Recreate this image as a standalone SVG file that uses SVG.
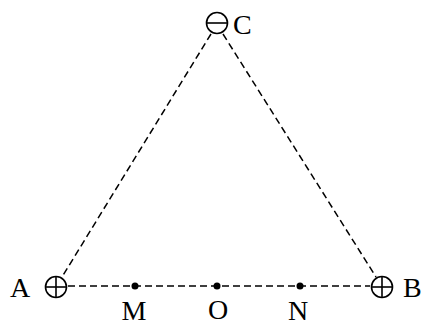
<svg xmlns="http://www.w3.org/2000/svg" width="429" height="327" viewBox="0 0 429 327">
<style>
.dash{stroke:#000;stroke-width:1.5;stroke-dasharray:7,4;fill:none}
.ch{stroke:#000;stroke-width:1.6;fill:none}
.lbl{font-family:"Liberation Serif",serif;font-size:28px;fill:#000}
.dot{fill:#000}
</style>
<rect width="429" height="327" fill="#fff"/>
<g id="connectors">
<line class="dash" x1="211" y1="34" x2="62" y2="277"/>
<line class="dash" x1="223" y1="34" x2="376" y2="277"/>
<line class="dash" x1="68" y1="286" x2="370" y2="286"/>
</g>
<g id="C">
<circle class="ch" cx="217" cy="23" r="10.5"/>
<line class="ch" x1="206.5" y1="23" x2="227.5" y2="23"/>
<text class="lbl" x="233" y="34">C</text>
</g>
<g id="A">
<circle class="ch" cx="56" cy="287" r="10.5"/>
<line class="ch" x1="45.5" y1="287" x2="66.5" y2="287"/>
<line class="ch" x1="56" y1="276.5" x2="56" y2="297.5"/>
<text class="lbl" x="10" y="297">A</text>
</g>
<g id="B">
<circle class="ch" cx="382" cy="287" r="10.5"/>
<line class="ch" x1="371.5" y1="287" x2="392.5" y2="287"/>
<line class="ch" x1="382" y1="276.5" x2="382" y2="297.5"/>
<text class="lbl" x="403" y="297">B</text>
</g>
<g id="M">
<circle class="dot" cx="135" cy="286" r="3.5"/>
<text class="lbl" x="134" y="320" text-anchor="middle">M</text>
</g>
<g id="O">
<circle class="dot" cx="217" cy="286" r="3.5"/>
<text class="lbl" x="218" y="319" text-anchor="middle">O</text>
</g>
<g id="N">
<circle class="dot" cx="300" cy="286" r="3.5"/>
<text class="lbl" x="298" y="320" text-anchor="middle">N</text>
</g>
</svg>
